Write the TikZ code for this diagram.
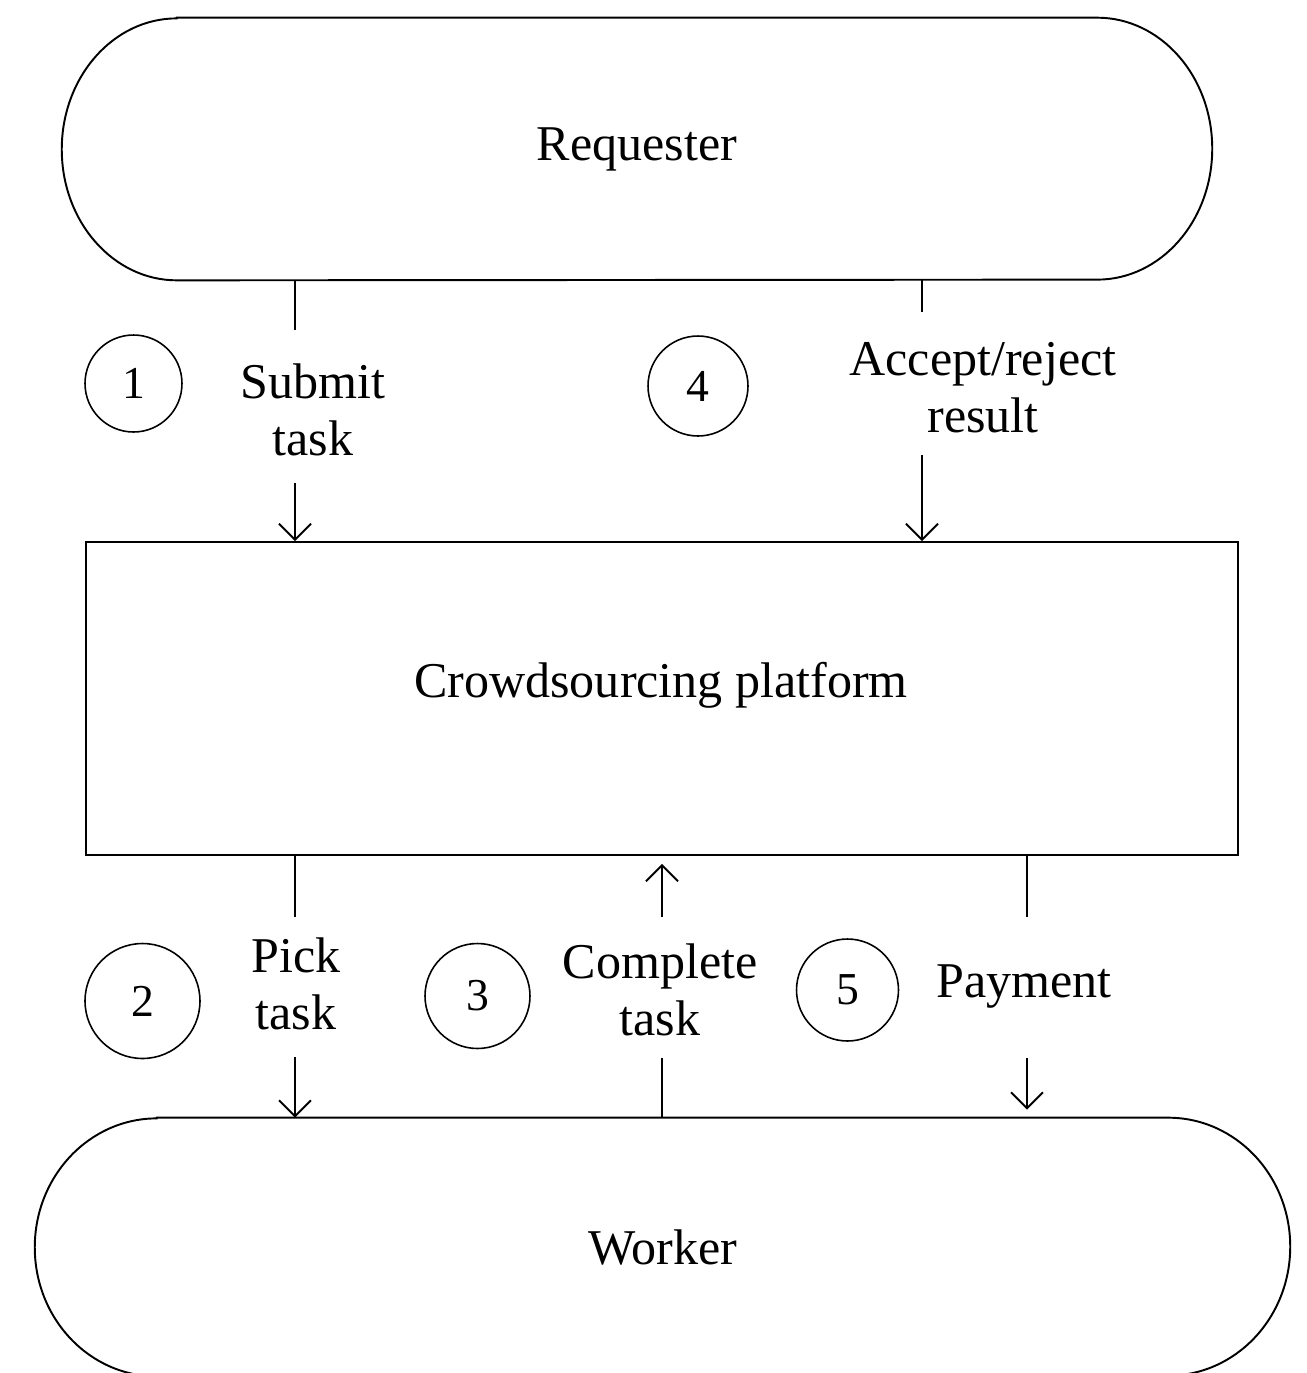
\documentclass[tikz,border=0pt]{standalone}
\usepackage{fontspec}
\setmainfont{Liberation Serif}
\usetikzlibrary{arrows.meta}
\begin{document}
\begin{tikzpicture}[x=0.02cm,y=-0.02cm,
  lbl/.style={font=\fontsize{28.5}{32.5}\selectfont, align=center, inner sep=0pt},
  terminal/.style={font=\fontsize{28.5}{32.5}\selectfont, inner sep=0pt},
  num/.style={draw, circle, line width=0.9pt, font=\fontsize{26}{30}\selectfont, inner sep=0pt},
  outline/.style={line width=1.1pt},
  conn/.style={line width=1.1pt},
  arr/.style={conn, -{Straight Barb[length=0.32cm,width=0.64cm]}}]
\useasboundingbox (0,0) rectangle (1306,1373);
\clip (0,0) rectangle (1306,1373);

% Requester
\node[terminal, minimum width=23cm, minimum height=5.24cm] (req) at (637,149) {Requester};
\draw[outline] ([xshift=2.3cm]req.north west) -- ([xshift=-2.3cm]req.north east)
  arc[start angle=90,end angle=-90,x radius=2.3cm,y radius=2.62cm]
  -- ([xshift=2.3cm]req.south west)
  arc[start angle=270,end angle=90,x radius=2.3cm,y radius=2.62cm] -- cycle;

% Platform
\node[draw, outline, minimum width=23.04cm, minimum height=6.26cm, inner sep=0pt] (plat) at (662,698.5) {};
\node[lbl] (platlbl) at (661,685) {Crowdsourcing platform};

% Worker
\node[terminal, minimum width=25.1cm, minimum height=5.16cm] (wrk) at (662.5,1247) {Worker};
\draw[outline] ([xshift=2.44cm]wrk.north west) -- ([xshift=-2.44cm]wrk.north east)
  arc[start angle=90,end angle=-90,x radius=2.44cm,y radius=2.58cm]
  -- ([xshift=2.44cm]wrk.south west)
  arc[start angle=270,end angle=90,x radius=2.44cm,y radius=2.58cm] -- cycle;

% Step circles
\node[num, minimum size=1.94cm] (n1) at (133.5,383.5) {1};
\node[num, minimum size=2.0cm] (n4) at (698,386) {4};
\node[num, minimum size=2.3cm] (n2) at (142.5,1001) {2};
\node[num, minimum size=2.1cm] (n3) at (477.5,996) {3};
\node[num, minimum size=2.04cm] (n5) at (847.5,990) {5};

% Labels
\node[lbl] (t1) at (313,410) {Submit\\task};
\node[lbl] (t4) at (983,388) {Accept/reject\\result};
\node[lbl] (t2) at (296,984) {Pick\\task};
\node[lbl] (t3) at (660,990) {Complete\\task};
\node[lbl] (t5) at (1024,986) {Payment};

% Break coordinates
\coordinate (a1top) at (295,330);
\coordinate (a1bot) at (295,483);
\coordinate (a4top) at (922,312);
\coordinate (a4bot) at (922,455);
\coordinate (a2top) at (295,917);
\coordinate (a2bot) at (295,1057);
\coordinate (a3top) at (662,917);
\coordinate (a3bot) at (662,1058);
\coordinate (a5top) at (1027,917);
\coordinate (a5bot) at (1027,1058);

% Connectors
\draw[conn] (req.south -| a1top) -- (a1top);
\draw[arr] (a1bot) -- (plat.north -| a1bot);
\draw[conn] (req.south -| a4top) -- (a4top);
\draw[arr] (a4bot) -- (plat.north -| a4bot);
\draw[conn] (plat.south -| a2top) -- (a2top);
\draw[arr] (a2bot) -- (wrk.north -| a2bot);
\draw[conn] (wrk.north -| a3bot) -- (a3bot);
\draw[arr] (a3top) -- ([yshift=-0.16cm]plat.south -| a3top);
\draw[conn] (plat.south -| a5top) -- (a5top);
\draw[arr] (a5bot) -- ([yshift=0.16cm]wrk.north -| a5bot);
\end{tikzpicture}
\end{document}
